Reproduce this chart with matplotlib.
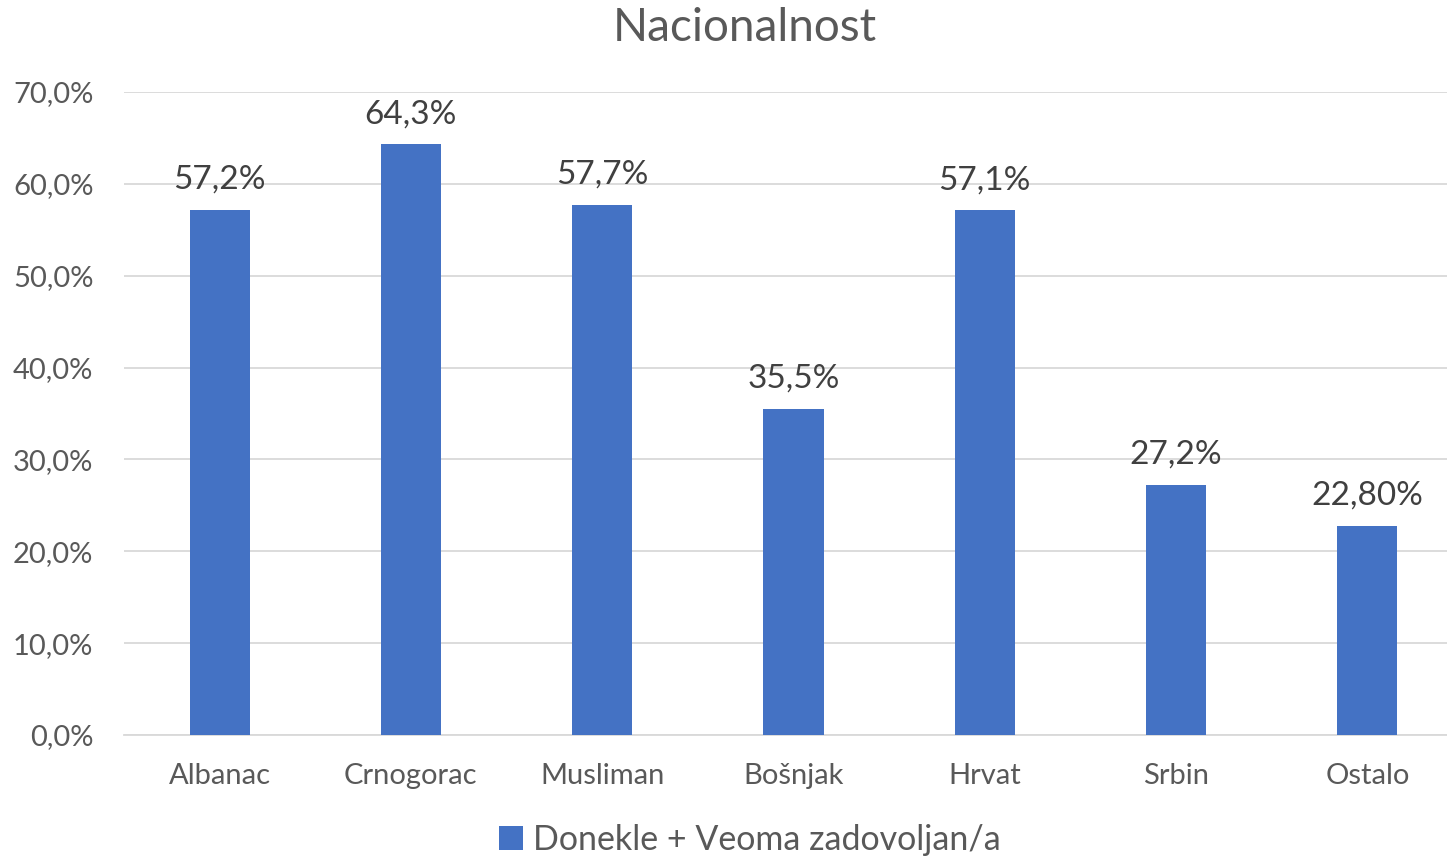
import matplotlib.pyplot as plt
from matplotlib.ticker import FuncFormatter

# data
categories = ['Albanac', 'Crnogorac', 'Musliman', 'Bošnjak', 'Hrvat', 'Srbin', 'Ostalo']
values = [57.2, 64.3, 57.7, 35.5, 57.1, 27.2, 22.8]
value_labels = ['57,2%', '64,3%', '57,7%', '35,5%', '57,1%', '27,2%', '22,80%']
series_name = 'Donekle + Veoma zadovoljan/a'

BLUE = '#4472C4'
TEXT = '#595959'
GRID = '#D9D9D9'

plt.rcParams['font.family'] = ['Lato', 'DejaVu Sans']

fig = plt.figure(figsize=(14.47, 8.59), dpi=100)
ax = fig.add_axes([124 / 1447, 1 - 735 / 859, 1339 / 1447, (735 - 92) / 859])

x = range(len(categories))
bars = ax.bar(x, values, width=0.314, color=BLUE, label=series_name, zorder=3)

for bar, lab in zip(bars, value_labels):
    ax.annotate(lab, xy=(bar.get_x() + bar.get_width() / 2, bar.get_height()),
                xytext=(0, 11), textcoords='offset points',
                ha='center', va='bottom', fontsize=24, color='#404040')

ax.set_xlim(-0.5, len(categories) - 0.5)
ax.set_ylim(0, 70)
ax.set_yticks(range(0, 71, 10))
ax.yaxis.set_major_formatter(FuncFormatter(lambda v, p: f'{v:.1f}%'.replace('.', ',')))
ax.set_xticks(list(x))
ax.set_xticklabels(categories)

ax.grid(axis='y', color=GRID, linewidth=1.3, zorder=0)
for s in ['top', 'right', 'left']:
    ax.spines[s].set_visible(False)
ax.spines['bottom'].set_color(GRID)
ax.spines['bottom'].set_linewidth(1.3)
ax.tick_params(axis='both', length=0, labelsize=21, colors=TEXT)
ax.tick_params(axis='x', pad=20)
ax.tick_params(axis='y', pad=22)

fig.text(745 / 1447, 1 - 28 / 859, 'Nacionalnost', ha='center', va='center', fontsize=33, color=TEXT)

fig.legend(loc='center', bbox_to_anchor=(750 / 1447, 1 - 840 / 859), frameon=False,
           fontsize=24.5, labelcolor=TEXT, handlelength=0.7, handleheight=0.7, handletextpad=0.3)

fig.savefig('out.png', dpi=100)
